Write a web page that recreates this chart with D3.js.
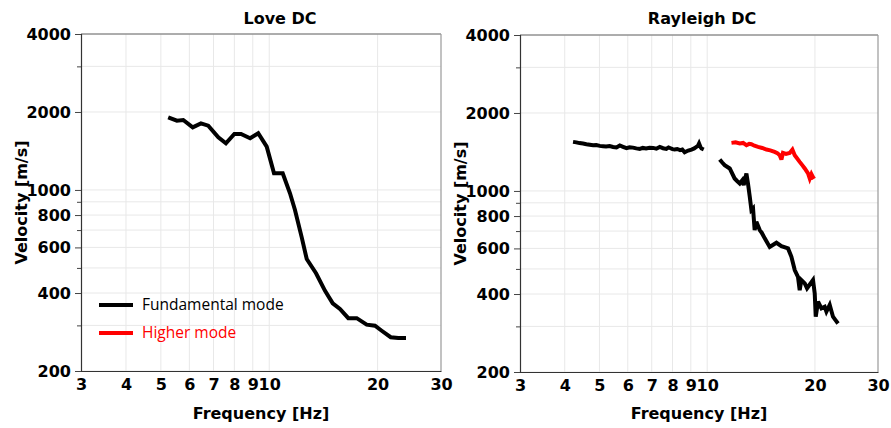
<!DOCTYPE html>
<html>
<head>
<meta charset="utf-8">
<script src="https://cdn.jsdelivr.net/npm/d3@7"></script>
<style>
  html, body { margin: 0; padding: 0; background: #fff; }
  svg { display: block; }
</style>
</head>
<body>
<svg id="chart" width="891" height="428"></svg>
<script>
// ---------------- DATA ----------------
const panelTitles = ["Love DC", "Rayleigh DC"];
const xTickValues = [3, 4, 5, 6, 7, 8, 9, 10, 20, 30];
const xTickLabels = ["3", "4", "5", "6", "7", "8", "9", "10", "20", "30"];
const yLabelValues = [200, 400, 600, 800, 1000, 2000, 4000];
const yMinorValues = [300, 500, 700, 900, 3000];
const legendLabels = ["Fundamental mode", "Higher mode"];

// Love DC, fundamental mode
const loveFreq = [5.24, 5.54, 5.77, 6.13, 6.46, 6.77, 7.22, 7.58, 8.00, 8.35, 8.85, 9.32, 9.84,
  10.31, 10.90, 11.42, 11.79, 12.31, 12.71, 13.49, 14.29, 15.01, 15.72, 16.58, 17.50, 18.65,
  19.67, 20.53, 21.75, 22.83, 23.98];
const loveVel = [1908, 1851, 1862, 1745, 1808, 1770, 1597, 1514, 1644, 1644, 1583, 1655, 1469,
  1160, 1160, 971, 837, 656, 541, 477, 408, 365, 347, 320, 320, 302,
  299, 286, 270, 268, 268];

// Rayleigh DC, fundamental mode (low-frequency branch)
const rayFundAFreq = [4.22, 4.31, 4.40, 4.50, 4.60, 4.70, 4.80, 4.90, 5.01, 5.12, 5.22, 5.34, 5.46,
  5.58, 5.70, 5.82, 5.95, 6.07, 6.20, 6.34, 6.48, 6.61, 6.75, 6.90, 7.06, 7.21, 7.37, 7.53, 7.69,
  7.80, 7.90, 8.00, 8.11, 8.25, 8.40, 8.52, 8.65, 8.85, 9.04, 9.20, 9.33, 9.42, 9.49, 9.57, 9.64, 9.78];
const rayFundAVel = [1547, 1540, 1530, 1524, 1515, 1508, 1500, 1505, 1493, 1488, 1484, 1490, 1479,
  1472, 1498, 1480, 1462, 1475, 1470, 1460, 1453, 1466, 1460, 1468, 1466, 1456, 1479, 1462, 1453,
  1472, 1462, 1450, 1445, 1452, 1438, 1446, 1411, 1432, 1445, 1460, 1479, 1492, 1525, 1480, 1458, 1445];

// Rayleigh DC, fundamental mode (high-frequency branch)
const rayFundBFreq = [10.84, 11.00, 11.19, 11.56, 11.93, 12.10, 12.33, 12.54, 12.65, 12.87, 13.00,
  13.15, 13.29, 13.43, 13.57, 13.72, 14.02, 14.20, 14.48, 14.95, 15.61, 16.12, 16.82, 17.19,
  17.56, 17.93, 18.13, 18.33, 18.73, 19.01, 19.75, 19.97, 20.10, 20.40, 20.85, 21.29, 21.53,
  21.99, 22.46, 22.80, 23.20];
const rayFundBVel = [1323, 1290, 1258, 1221, 1117, 1095, 1069, 1101, 1053, 1168, 1069,
  949, 843, 856, 706, 760, 706, 690, 656, 608, 631, 612, 600, 557,
  495, 466, 414, 453, 440, 421, 453, 402, 327, 374, 352, 357, 342,
  363, 327, 318, 308];

// Rayleigh DC, higher mode
const rayHighFreq = [11.69, 12.00, 12.33, 12.60, 12.87, 13.10, 13.29, 13.55, 13.87, 14.25, 14.64,
  15.00, 15.43, 15.70, 15.94, 16.12, 16.28, 16.60, 17.00, 17.30, 17.56, 18.13, 18.50, 18.73,
  19.13, 19.34, 19.55, 19.75, 19.97];
const rayHighVel = [1533, 1540, 1525, 1532, 1502, 1520, 1515, 1495, 1479, 1465, 1445,
  1435, 1415, 1400, 1374, 1323, 1402, 1390, 1402, 1445, 1374, 1295, 1250, 1221,
  1168, 1117, 1161, 1130, 1141];

// ---------------- DRAW ----------------
const svg = d3.select("#chart");
const BOLD = "'DejaVu Sans', sans-serif";
const REG = "'Open Sans', sans-serif";

const panels = [
  { x0: 81, x1: 441, y0: 34, y1: 371, titleX: 280, yTitleX: 27,
    series: [
      { f: loveFreq, v: loveVel, color: "#000", w: 4 }
    ], legend: true },
  { x0: 520, x1: 878, y0: 35, y1: 372, titleX: 702, yTitleX: 466,
    series: [
      { f: rayFundAFreq, v: rayFundAVel, color: "#000", w: 4 },
      { f: rayFundBFreq, v: rayFundBVel, color: "#000", w: 4 },
      { f: rayHighFreq, v: rayHighVel, color: "#ff0000", w: 4 }
    ], legend: false }
];

panels.forEach((p, i) => {
  const x = d3.scaleLog().domain([3, 30]).range([p.x0, p.x1]);
  const y = d3.scaleLog().domain([200, 4000]).range([p.y1, p.y0]);
  const g = svg.append("g");

  // gridlines
  const allY = yLabelValues.concat(yMinorValues);
  g.append("g").selectAll("line").data(allY).join("line")
    .attr("x1", p.x0).attr("x2", p.x1)
    .attr("y1", d => y(d)).attr("y2", d => y(d))
    .attr("stroke", "#e8e8e8").attr("stroke-width", 1);
  g.append("g").selectAll("line").data(xTickValues.filter(d => d > 3 && d < 30)).join("line")
    .attr("x1", d => x(d)).attr("x2", d => x(d))
    .attr("y1", p.y0).attr("y2", p.y1)
    .attr("stroke", "#e8e8e8").attr("stroke-width", 1);

  // frame top/right
  g.append("line").attr("x1", p.x0).attr("x2", p.x1).attr("y1", p.y0).attr("y2", p.y0)
    .attr("stroke", "#666").attr("stroke-width", 1.2);
  g.append("line").attr("x1", p.x1).attr("x2", p.x1).attr("y1", p.y0).attr("y2", p.y1)
    .attr("stroke", "#999").attr("stroke-width", 1.2);

  // y axis
  const yAxis = d3.axisLeft(y).tickValues(yLabelValues).tickFormat(d3.format("d"))
    .tickSize(6).tickPadding(4);
  const ya = g.append("g").attr("transform", `translate(${p.x0},0)`).call(yAxis);
  ya.select(".domain").attr("stroke", "#333").attr("stroke-width", 1.2);
  ya.selectAll(".tick line").attr("stroke", "#444");
  ya.selectAll(".tick text").attr("font-family", BOLD).attr("font-weight", "bold")
    .attr("font-size", "16px").attr("fill", "#000");
  const yMinorAxis = d3.axisLeft(y).tickValues(yMinorValues).tickFormat("").tickSize(4);
  const ym = g.append("g").attr("transform", `translate(${p.x0},0)`).call(yMinorAxis);
  ym.select(".domain").remove();
  ym.selectAll(".tick line").attr("stroke", "#444");

  // x axis
  const xAxis = d3.axisBottom(x).tickValues(xTickValues)
    .tickFormat((d, k) => xTickLabels[k]).tickSize(0).tickPadding(8);
  const xa = g.append("g").attr("transform", `translate(0,${p.y1})`).call(xAxis);
  xa.select(".domain").attr("stroke", "#333").attr("stroke-width", 1.2);
  xa.selectAll(".tick text").attr("font-family", BOLD).attr("font-weight", "bold")
    .attr("font-size", "16px").attr("fill", "#000");

  // titles
  g.append("text").attr("x", p.titleX).attr("y", 24).attr("text-anchor", "middle")
    .attr("font-family", BOLD).attr("font-weight", "bold").attr("font-size", "16px")
    .text(panelTitles[i]);
  g.append("text").attr("x", (p.x0 + p.x1) / 2).attr("y", 419).attr("text-anchor", "middle")
    .attr("font-family", BOLD).attr("font-weight", "bold").attr("font-size", "16px")
    .text("Frequency [Hz]");
  g.append("text")
    .attr("transform", `translate(${p.yTitleX},${(p.y0 + p.y1) / 2}) rotate(-90)`)
    .attr("text-anchor", "middle")
    .attr("font-family", BOLD).attr("font-weight", "bold").attr("font-size", "16px")
    .text("Velocity [m/s]");

  // curves
  const line = d3.line().x(d => x(d[0])).y(d => y(d[1]));
  p.series.forEach(s => {
    const pts = s.f.map((f, k) => [f, s.v[k]]);
    g.append("path").datum(pts).attr("d", line)
      .attr("fill", "none").attr("stroke", s.color).attr("stroke-width", s.w)
      .attr("stroke-linejoin", "miter").attr("stroke-miterlimit", 3);
  });

  // legend
  if (p.legend) {
    const colors = ["#000", "#ff0000"];
    legendLabels.forEach((lab, k) => {
      const ly = 305 + k * 28;
      g.append("line").attr("x1", 99).attr("x2", 133).attr("y1", ly).attr("y2", ly)
        .attr("stroke", colors[k]).attr("stroke-width", 4);
      g.append("text").attr("x", 142).attr("y", ly).attr("dy", "0.35em")
        .attr("font-family", REG).attr("font-size", "15.5px").attr("fill", colors[k])
        .text(lab);
    });
  }
});
</script>
</body>
</html>
